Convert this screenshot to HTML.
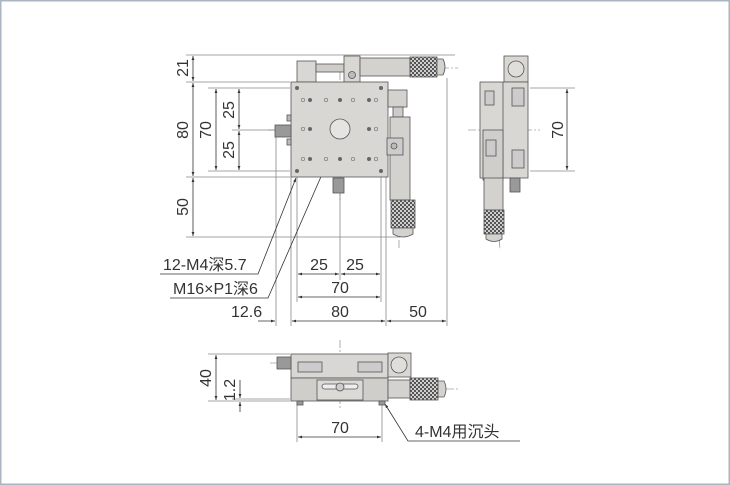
<!DOCTYPE html>
<html><head><meta charset="utf-8"><style>
html,body{margin:0;padding:0;background:#fff}
svg{display:block}
text{font-family:"Liberation Sans","Noto Sans CJK SC",sans-serif;fill:#333}
</style></head><body>
<svg width="730" height="485" viewBox="0 0 730 485" xmlns="http://www.w3.org/2000/svg">
<defs>
<pattern id="kn" width="4" height="4" patternUnits="userSpaceOnUse"><rect width="4" height="4" fill="#cfcfcf"/><rect width="2" height="2" fill="#555"/><rect x="2" y="2" width="2" height="2" fill="#555"/></pattern>
<marker id="a" viewBox="0 0 10 10" refX="10" refY="5" markerWidth="7" markerHeight="5" orient="auto-start-reverse"><path d="M0,1.5L10,5L0,8.5z" fill="#333"/></marker>
</defs>
<rect x="0.75" y="0.75" width="728.5" height="483.5" fill="#fff" stroke="#aab5c2" stroke-width="1.5"/>

<g stroke="#888" stroke-width="0.8" fill="none">
<line x1="186" y1="55" x2="455" y2="55"/>
<line x1="186" y1="82" x2="290" y2="82"/>
<line x1="186" y1="177" x2="290" y2="177"/>
<line x1="186" y1="237" x2="398" y2="237"/>
<line x1="208" y1="88" x2="290" y2="88"/>
<line x1="208" y1="171" x2="290" y2="171"/>
<line x1="232" y1="130" x2="290" y2="130"/>
<line x1="276" y1="135" x2="276" y2="326"/>
<line x1="291" y1="177" x2="291" y2="326"/>
<line x1="297" y1="177" x2="297" y2="302"/>
<line x1="340" y1="140" x2="340" y2="280"/>
<line x1="381" y1="177" x2="381" y2="302"/>
<line x1="386" y1="177" x2="386" y2="326"/>
<line x1="447" y1="78" x2="447" y2="326"/>
<line x1="530" y1="88" x2="575" y2="88"/>
<line x1="530" y1="171" x2="575" y2="171"/>
<line x1="208" y1="354" x2="290" y2="354"/>
<line x1="208" y1="401" x2="290" y2="401"/>
<line x1="232" y1="399" x2="290" y2="399"/>
<line x1="297" y1="402" x2="297" y2="442"/>
<line x1="382" y1="402" x2="382" y2="442"/>
</g>
<g stroke="#777" stroke-width="0.6" stroke-dasharray="8,2,2,2" fill="none">
<line x1="340" y1="72" x2="340" y2="200"/>
<line x1="268" y1="130" x2="396" y2="130"/>
<line x1="315" y1="68" x2="458" y2="68"/>
<line x1="399" y1="100" x2="399" y2="248"/>
<line x1="468" y1="130" x2="540" y2="130"/>
<line x1="492" y1="100" x2="500" y2="250"/>
<line x1="340" y1="340" x2="340" y2="410"/>
<line x1="270" y1="363" x2="300" y2="363"/>
<line x1="390" y1="389" x2="458" y2="389"/>
</g>

<g stroke="#333" stroke-width="0.8" fill="none" marker-start="url(#a)" marker-end="url(#a)">
<line x1="193" y1="56" x2="193" y2="81"/>
<line x1="193" y1="83" x2="193" y2="176"/>
<line x1="193" y1="178" x2="193" y2="236"/>
<line x1="216" y1="89" x2="216" y2="170"/>
<line x1="239" y1="89" x2="239" y2="129"/>
<line x1="239" y1="131" x2="239" y2="170"/>
<line x1="298" y1="274" x2="339" y2="274"/>
<line x1="341" y1="274" x2="380" y2="274"/>
<line x1="298" y1="297" x2="380" y2="297"/>
<line x1="292" y1="321" x2="385" y2="321"/>
<line x1="387" y1="321" x2="446" y2="321"/>
<line x1="567" y1="89" x2="567" y2="170"/>
<line x1="216" y1="355" x2="216" y2="400"/>
<line x1="298" y1="437" x2="381" y2="437"/>
</g>
<g stroke="#333" stroke-width="0.8" fill="none">
<line x1="258" y1="321" x2="275" y2="321" marker-end="url(#a)"/>
<line x1="240" y1="380" x2="240" y2="398" marker-end="url(#a)"/>
<line x1="240" y1="412" x2="240" y2="402" marker-end="url(#a)"/>
<polyline points="160,274 258,274 296,178" marker-end="url(#a)"/>
<polyline points="170,298 268,298 337,140" marker-end="url(#a)"/>
<polyline points="520,441 408,441 385,404" marker-end="url(#a)"/>
</g>

<g stroke="#555" stroke-width="0.8">
<rect x="297" y="61" width="19" height="21" fill="#d9d7d3"/>
<rect x="316" y="64" width="28" height="8" fill="#cfcdc9"/>
<rect x="344" y="56" width="16" height="26" fill="#d9d7d3"/>
<rect x="360" y="58" width="50" height="18" fill="#d4d2ce"/>
<rect x="410" y="57" width="27" height="20" fill="url(#kn)"/>
<path d="M437,59 h6 q4,8 0,16 h-6z" fill="#d4d2ce"/>
<circle cx="352" cy="75" r="3.5" fill="#bbb"/>
<rect x="291" y="82" width="97" height="95" fill="#d9d7d3"/>
<rect x="275" y="125" width="16" height="12" fill="#999"/>
<rect x="287" y="115" width="4" height="6" fill="#bbb"/>
<rect x="287" y="139" width="4" height="6" fill="#bbb"/>
<rect x="333" y="178" width="11" height="15" fill="#999"/>
<rect x="388" y="90" width="19" height="17" fill="#d4d2ce"/>
<rect x="393" y="107" width="10" height="10" fill="#ccc"/>
<rect x="390" y="117" width="20" height="83" fill="#d4d2ce"/>
<rect x="387" y="138" width="16" height="17" fill="#ccc"/>
<circle cx="394" cy="146" r="3" fill="#bbb"/>
<rect x="391" y="200" width="24" height="28" fill="url(#kn)"/>
<path d="M393,228 h20 v6 q-10,6 -20,0z" fill="#d4d2ce"/>
<circle cx="340" cy="129" r="10" fill="#e6e4e0"/>
</g>
<g fill="#666">
<circle cx="297" cy="88" r="2"/><circle cx="381" cy="88" r="2"/>
<circle cx="297" cy="171" r="2"/><circle cx="381" cy="171" r="2"/>
<circle cx="310" cy="100" r="2"/><circle cx="340" cy="100" r="2"/><circle cx="369" cy="100" r="2"/>
<circle cx="310" cy="129" r="2"/><circle cx="369" cy="129" r="2"/>
<circle cx="310" cy="159" r="2"/><circle cx="340" cy="159" r="2"/><circle cx="369" cy="159" r="2"/>
</g>
<g fill="none" stroke="#777" stroke-width="0.7">
<circle cx="303" cy="100" r="1.7"/><circle cx="326" cy="100" r="1.7"/><circle cx="353" cy="100" r="1.7"/><circle cx="376" cy="100" r="1.7"/>
<circle cx="303" cy="129" r="1.7"/><circle cx="376" cy="129" r="1.7"/>
<circle cx="303" cy="159" r="1.7"/><circle cx="326" cy="159" r="1.7"/><circle cx="353" cy="159" r="1.7"/><circle cx="376" cy="159" r="1.7"/>
</g>

<g stroke="#555" stroke-width="0.8">
<rect x="504" y="56" width="24" height="26" fill="#d9d7d3"/>
<circle cx="516" cy="69" r="8" fill="#e0deda"/>
<rect x="480" y="82" width="48" height="96" fill="#d9d7d3"/>
<line x1="503" y1="82" x2="503" y2="178"/>
<rect x="483" y="130" width="20" height="50" fill="#d0ceca"/>
<rect x="484" y="178" width="19" height="32" fill="#d4d2ce"/>
<rect x="484" y="210" width="20" height="24" fill="url(#kn)"/>
<path d="M486,234 h16 v5 q-8,5 -16,0z" fill="#d4d2ce"/>
<rect x="510" y="178" width="10" height="14" fill="#999"/>
<rect x="512" y="88" width="12" height="18" fill="#ccc"/>
<rect x="512" y="150" width="12" height="18" fill="#ccc"/>
<rect x="485" y="91" width="9" height="14" fill="#ccc"/>
<rect x="486" y="140" width="10" height="16" fill="#ccc"/>
</g>

<g stroke="#555" stroke-width="0.8">
<rect x="291" y="354" width="97" height="24" fill="#d9d7d3"/>
<rect x="291" y="378" width="97" height="23" fill="#d0ceca"/>
<rect x="277" y="357" width="14" height="12" fill="#999"/>
<rect x="388" y="353" width="23" height="24" fill="#d9d7d3"/>
<circle cx="399" cy="365" r="8" fill="#e0deda"/>
<rect x="388" y="380" width="22" height="18" fill="#d4d2ce"/>
<rect x="410" y="378" width="28" height="22" fill="url(#kn)"/>
<path d="M438,381 h6 q4,8 0,16 h-6z" fill="#d4d2ce"/>
<rect x="317" y="380" width="46" height="20" fill="#dcdad6"/>
<rect x="322" y="384" width="36" height="5" rx="2.5" fill="#eee"/>
<circle cx="340" cy="387" r="4" fill="#ccc"/>
<rect x="298" y="362" width="24" height="10" fill="#ccc"/>
<rect x="358" y="362" width="24" height="10" fill="#ccc"/>
<rect x="297" y="401" width="6" height="4" fill="#999"/>
<rect x="379" y="401" width="6" height="4" fill="#999"/>
</g>

<g font-size="16">
<text transform="translate(188,68) rotate(-90)" text-anchor="middle">21</text>
<text transform="translate(188,130) rotate(-90)" text-anchor="middle">80</text>
<text transform="translate(188,207) rotate(-90)" text-anchor="middle">50</text>
<text transform="translate(211,130) rotate(-90)" text-anchor="middle">70</text>
<text transform="translate(234,110) rotate(-90)" text-anchor="middle">25</text>
<text transform="translate(234,150) rotate(-90)" text-anchor="middle">25</text>
<text transform="translate(563,130) rotate(-90)" text-anchor="middle">70</text>
<text transform="translate(211,378) rotate(-90)" text-anchor="middle">40</text>
<text transform="translate(235,390) rotate(-90)" text-anchor="middle">1.2</text>
<text x="163" y="270">12-M4深5.7</text>
<text x="173" y="294">M16×P1深6</text>
<text x="231" y="317">12.6</text>
<text x="319" y="270" text-anchor="middle">25</text>
<text x="355" y="270" text-anchor="middle">25</text>
<text x="340" y="293" text-anchor="middle">70</text>
<text x="340" y="317" text-anchor="middle">80</text>
<text x="418" y="317" text-anchor="middle">50</text>
<text x="340" y="433" text-anchor="middle">70</text>
<text x="415" y="437">4-M4用沉头</text>
</g>
</svg>
</body></html>
